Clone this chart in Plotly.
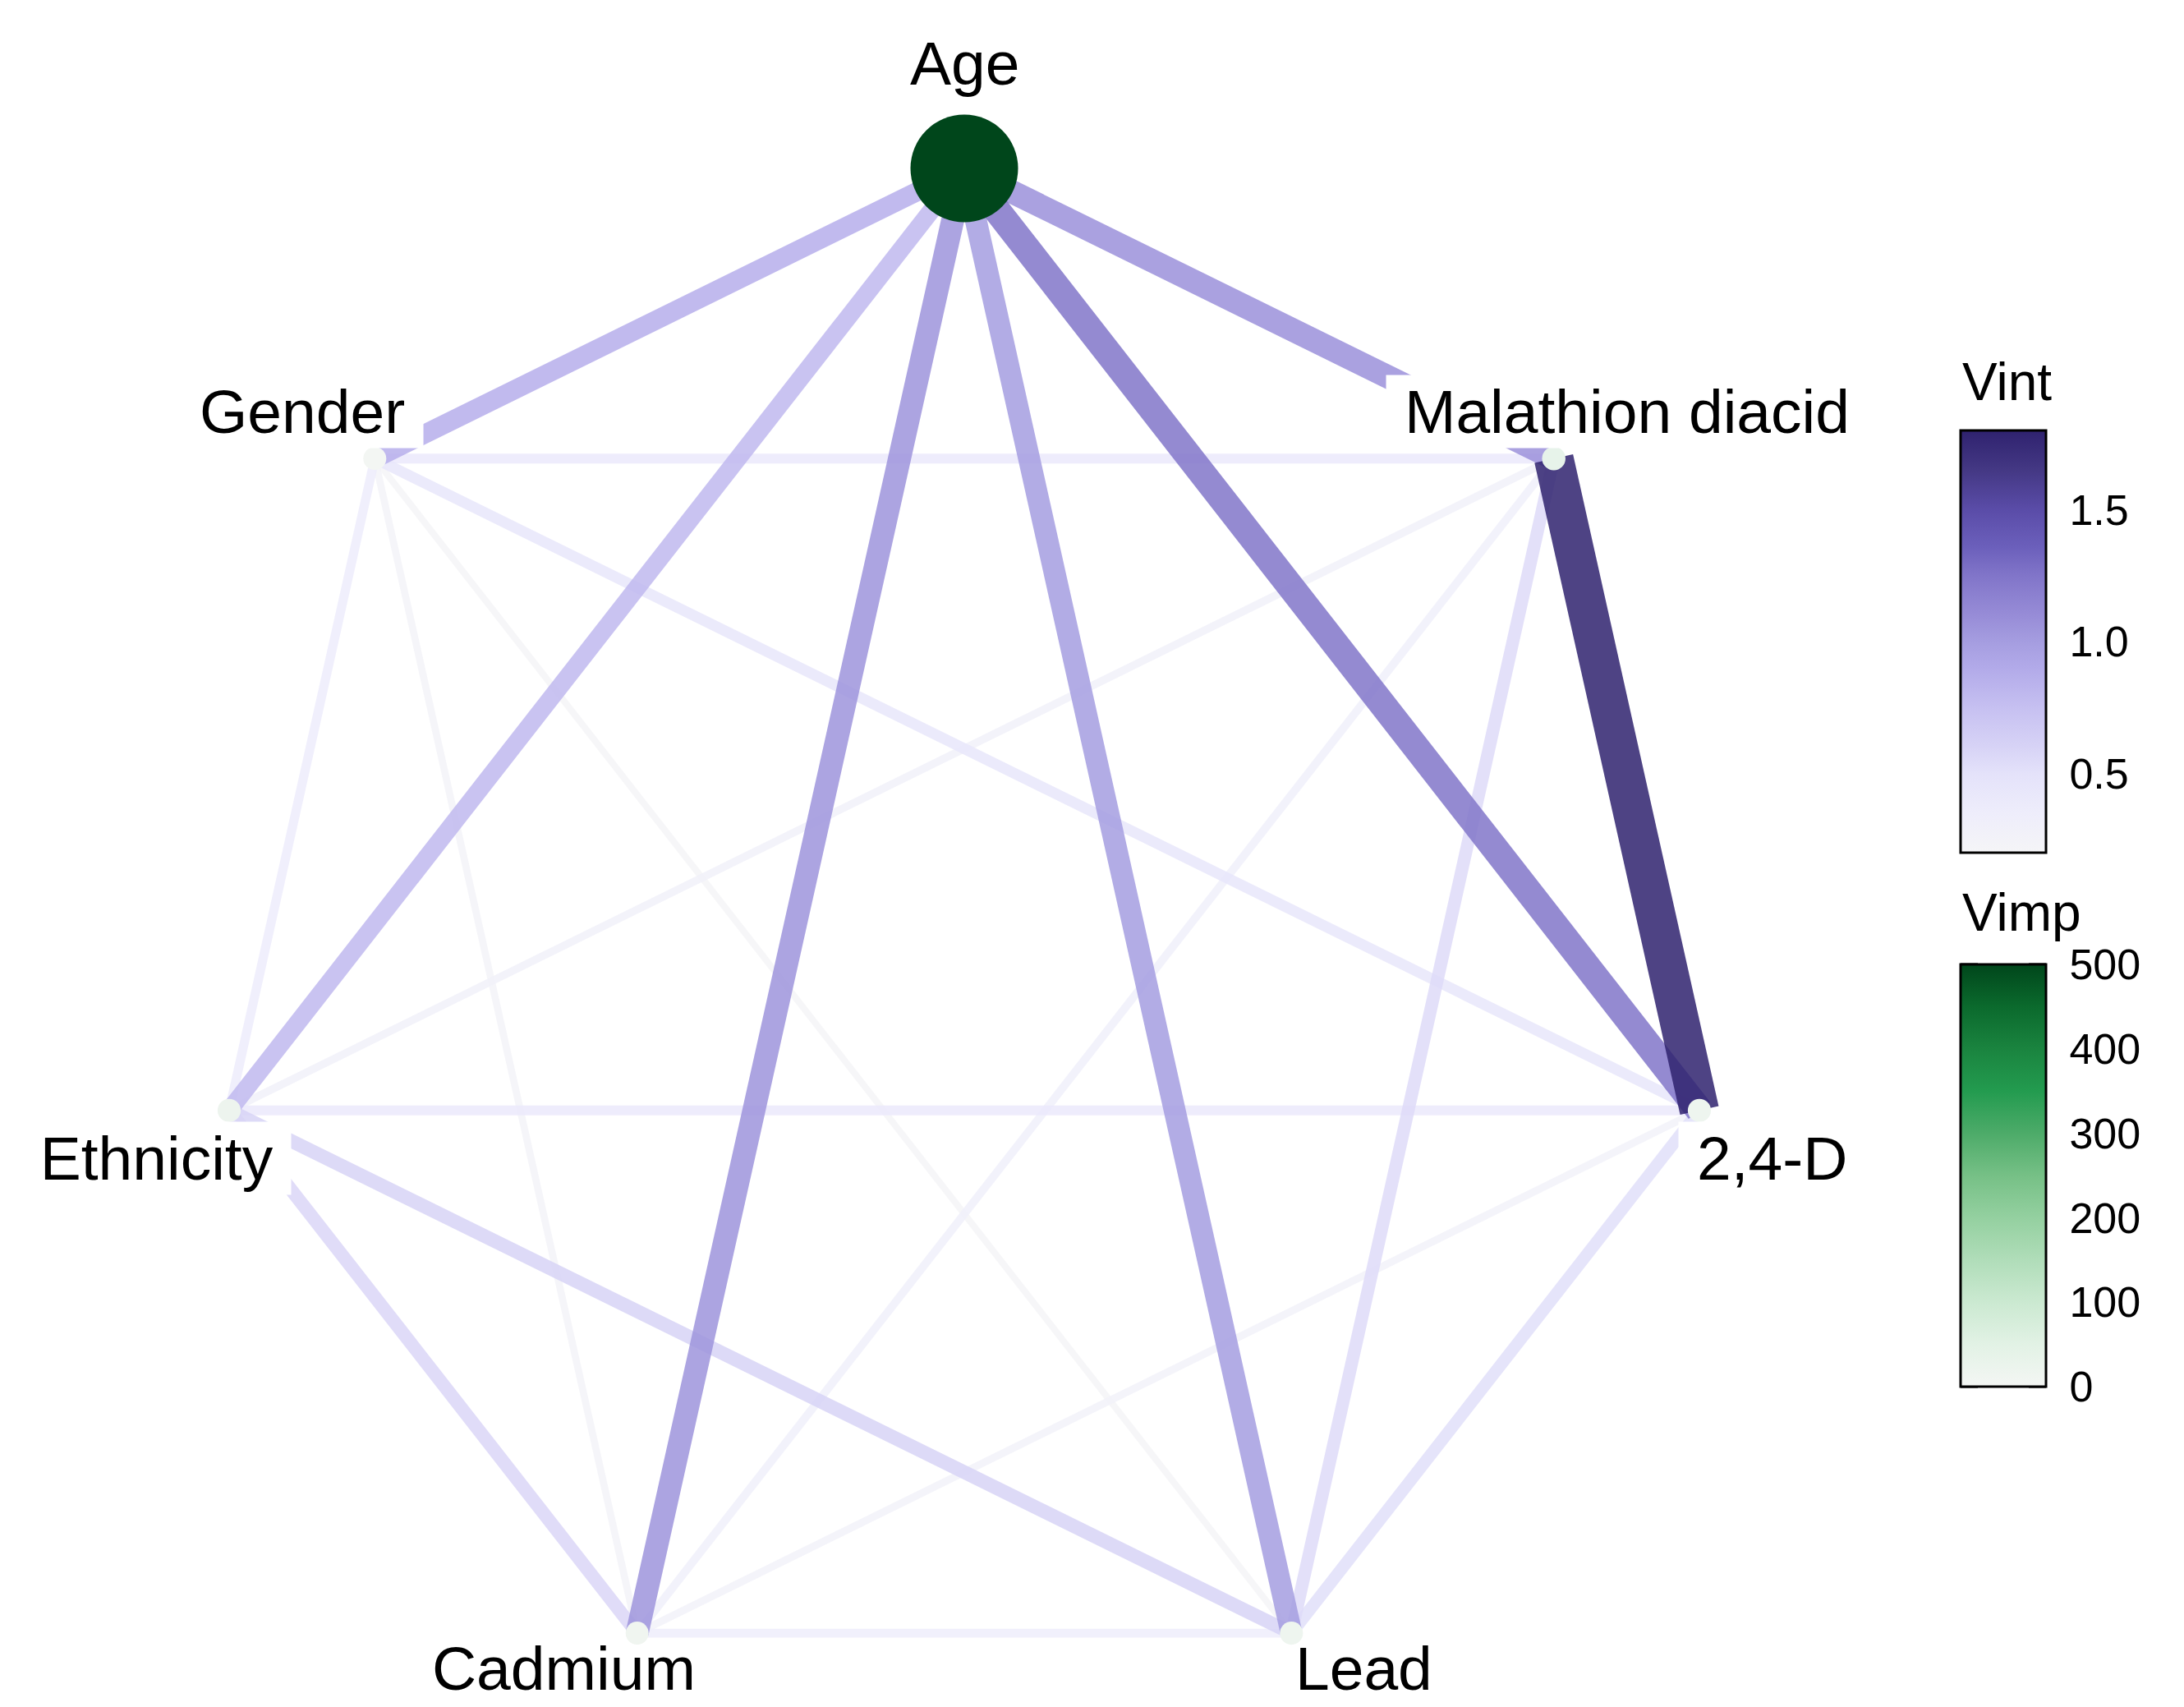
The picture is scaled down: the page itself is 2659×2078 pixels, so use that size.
import math
import plotly.graph_objects as go

# ---------------------------------------------------------------- data
variables = ["Age", "Malathion diacid", "2,4-D", "Lead", "Cadmium", "Ethnicity", "Gender"]
vimp_values = [500, 35, 18, 17, 12, 20, 4]

edge_source = ["Gender", "Gender", "Cadmium", "Ethnicity", "Cadmium",
               "Cadmium", "Ethnicity", "Gender", "Ethnicity", "Gender",
               "Lead", "Malathion diacid", "Ethnicity", "Ethnicity", "Age",
               "Age", "Age", "Age", "Age", "Age", "Malathion diacid"]
edge_target = ["Lead", "Cadmium", "2,4-D", "Malathion diacid", "Malathion diacid",
               "Lead", "Gender", "Malathion diacid", "2,4-D", "2,4-D",
               "2,4-D", "Lead", "Cadmium", "Lead", "Ethnicity",
               "Gender", "Lead", "Cadmium", "Malathion diacid", "2,4-D", "2,4-D"]
vint_values = [0.20, 0.24, 0.26, 0.28, 0.30,
               0.35, 0.36, 0.40, 0.40, 0.45,
               0.52, 0.55, 0.58, 0.60, 0.80,
               0.87, 1.00, 1.05, 1.07, 1.25, 1.80]

vint_ticks = [0.5, 1.0, 1.5]
vint_ticktext = ["0.5", "1.0", "1.5"]
vimp_ticks = [0, 100, 200, 300, 400, 500]

# ---------------------------------------------------------------- styling
W, H = 2659, 2078
FONT = "Liberation Sans, Arial, Helvetica, sans-serif"
LABEL_SIZE = 75
VINT_MIN, VINT_MAX = 0.2, 1.8
VIMP_MIN, VIMP_MAX = 0, 500

purple_stops = [(0.20, "#f5f5f7"), (0.35, "#eeedfb"), (0.50, "#e4e2fa"),
                (0.60, "#d7d3f6"), (0.75, "#c6c0f1"), (0.90, "#b2aae9"),
                (1.00, "#a59de0"), (1.10, "#978cd7"), (1.25, "#8175c9"),
                (1.36, "#6b5fbb"), (1.50, "#5a4ca8"), (1.65, "#443884"),
                (1.80, "#2f226f")]
green_stops = [(0, "#f4f6f4"), (50, "#e2f2e5"), (100, "#cbe9d1"), (150, "#b0ddb9"),
               (200, "#94d0a0"), (250, "#76c086"), (300, "#4dab69"), (350, "#239b4f"),
               (400, "#1a843f"), (450, "#0b6a2d"), (500, "#00461b")]

vint_scale = [[(v - VINT_MIN) / (VINT_MAX - VINT_MIN), c] for v, c in purple_stops]
vimp_scale = [[(v - VIMP_MIN) / (VIMP_MAX - VIMP_MIN), c] for v, c in green_stops]


def hex_rgb(h):
    h = h.lstrip("#")
    return tuple(int(h[i:i + 2], 16) for i in (0, 2, 4))


def scale_color(scale, t, alpha=0.85):
    t = min(max(t, 0.0), 1.0)
    for (t0, c0), (t1, c1) in zip(scale[:-1], scale[1:]):
        if t <= t1:
            f = 0.0 if t1 == t0 else (t - t0) / (t1 - t0)
            a, b = hex_rgb(c0), hex_rgb(c1)
            r, g, bl = (round(a[i] + f * (b[i] - a[i])) for i in range(3))
            return f"rgba({r},{g},{bl},{alpha})"
    r, g, bl = hex_rgb(scale[-1][1])
    return f"rgba({r},{g},{bl},{alpha})"


def edge_width(v):
    t = (v - VINT_MIN) / (VINT_MAX - VINT_MIN)
    return 8 + 40 * max(t, 0) ** 1.1


def node_size(v):
    return 28 + 103 * (v / VIMP_MAX) ** 2


# Arial/Liberation Sans advance widths (per 1000 em) for sizing the label boxes
ADVANCE = {"A": 667, "C": 722, "D": 722, "E": 667, "G": 778, "L": 556, "M": 833,
           "a": 556, "c": 500, "d": 556, "e": 556, "g": 556, "h": 556, "i": 222,
           "l": 222, "m": 833, "n": 556, "o": 556, "r": 333, "t": 278, "u": 556,
           "y": 500, " ": 278, ",": 278, "-": 333, "2": 556, "4": 556}


def text_width(s, size):
    return sum(ADVANCE.get(ch, 556) for ch in s) * size / 1000


# circular layout, first variable on top, going clockwise
n = len(variables)
angles = [math.pi / 2 - 2 * math.pi * k / n for k in range(n)]
pos = {name: (math.cos(a), math.sin(a)) for name, a in zip(variables, angles)}

fig = go.Figure()

# edges, weakest first so the strong links sit on top
order = sorted(range(len(vint_values)), key=lambda i: vint_values[i])
for i in order:
    (x0, y0), (x1, y1) = pos[edge_source[i]], pos[edge_target[i]]
    v = vint_values[i]
    fig.add_trace(go.Scatter(
        x=[x0, x1], y=[y0, y1], mode="lines",
        line=dict(color=scale_color(vint_scale, (v - VINT_MIN) / (VINT_MAX - VINT_MIN)),
                  width=edge_width(v)),
        hoverinfo="text", text=f"{edge_source[i]} – {edge_target[i]}: {v}",
        showlegend=False))

# colour bar geometry (pixels)
BAR_LEFT, BAR_W, BAR_LEN = 2387, 104, 514
VINT_TOP, VIMP_TOP = 524, 1174
TICK_LEN = 21
tickfont = dict(family=FONT, size=52, color="black")


def colorbar(top, tickvals, ticktext=None):
    cb = dict(thickness=BAR_W, thicknessmode="pixels",
              len=BAR_LEN, lenmode="pixels",
              x=BAR_LEFT / W, xanchor="left", xpad=0,
              y=1 - top / H, yanchor="top", ypad=0,
              outlinewidth=3, outlinecolor="black",
              # transparent outside ticks only space the labels off the bar
              ticks="outside", ticklen=17, tickcolor="rgba(0,0,0,0)",
              tickvals=tickvals, tickfont=tickfont)
    if ticktext is not None:
        cb["ticktext"] = ticktext
    return cb


# invisible edge midpoints carrying the interaction colour bar
mid_x = [(pos[a][0] + pos[b][0]) / 2 for a, b in zip(edge_source, edge_target)]
mid_y = [(pos[a][1] + pos[b][1]) / 2 for a, b in zip(edge_source, edge_target)]
fig.add_trace(go.Scatter(
    x=mid_x, y=mid_y, mode="markers",
    marker=dict(size=4, opacity=0, color=vint_values, colorscale=vint_scale,
                cmin=VINT_MIN, cmax=VINT_MAX, showscale=True,
                colorbar=colorbar(VINT_TOP, vint_ticks, vint_ticktext)),
    hoverinfo="skip", showlegend=False))

# nodes
fig.add_trace(go.Scatter(
    x=[pos[v][0] for v in variables], y=[pos[v][1] for v in variables],
    mode="markers",
    marker=dict(size=[node_size(v) for v in vimp_values], color=vimp_values,
                colorscale=vimp_scale, cmin=VIMP_MIN, cmax=VIMP_MAX, opacity=1,
                line=dict(width=0), showscale=True,
                colorbar=colorbar(VIMP_TOP, vimp_ticks)),
    text=[f"{v}: {s}" for v, s in zip(variables, vimp_values)], hoverinfo="text",
    showlegend=False))

# tick marks drawn inside both edges of each colour bar
shapes = []
for top, lo, hi, ticks in [(VINT_TOP, VINT_MIN, VINT_MAX, vint_ticks),
                           (VIMP_TOP, VIMP_MIN, VIMP_MAX, vimp_ticks)]:
    for t in ticks:
        ypx = top + (hi - t) / (hi - lo) * BAR_LEN
        for xa, xb in [(BAR_LEFT, BAR_LEFT + TICK_LEN),
                       (BAR_LEFT + BAR_W - TICK_LEN, BAR_LEFT + BAR_W)]:
            shapes.append(dict(type="line", xref="paper", yref="paper",
                               x0=xa / W, x1=xb / W,
                               y0=1 - ypx / H, y1=1 - ypx / H,
                               line=dict(color="black", width=3)))

# node labels on white boxes, nudged away from each node (pixels)
label_dx = [0, 89, 89, 88, -89, -89, -88]
label_dy = [128, 57, -58, -43, -43, -58, 57]
label_boxed = [True, True, True, False, False, True, True]
annotations = []
for name, dx, dy, boxed in zip(variables, label_dx, label_dy, label_boxed):
    annotations.append(dict(x=pos[name][0], y=pos[name][1], xref="x", yref="y",
                            text=name, showarrow=False, xshift=dx, yshift=dy,
                            xanchor="center", yanchor="middle",
                            width=text_width(name, LABEL_SIZE) + 40,
                            bgcolor="white" if boxed else "rgba(0,0,0,0)",
                            borderpad=2,
                            font=dict(family=FONT, size=LABEL_SIZE, color="black")))

# colour bar titles
for title, ypx in [("Vint", 465), ("Vimp", 1111)]:
    annotations.append(dict(x=BAR_LEFT / W, y=1 - ypx / H, xref="paper", yref="paper",
                            text=title, showarrow=False, xanchor="left", yanchor="middle",
                            font=dict(family=FONT, size=64, color="black")))

fig.update_layout(
    width=W, height=H,
    margin=dict(l=0, r=0, t=0, b=0, autoexpand=False),
    paper_bgcolor="white", plot_bgcolor="white",
    xaxis=dict(visible=False, range=[-1174 / 918, (W - 1174) / 918], fixedrange=True),
    yaxis=dict(visible=False, range=[(1143 - H) / 938, 1143 / 938], fixedrange=True),
    shapes=shapes, annotations=annotations, showlegend=False,
)

fig.write_html("out.html")
